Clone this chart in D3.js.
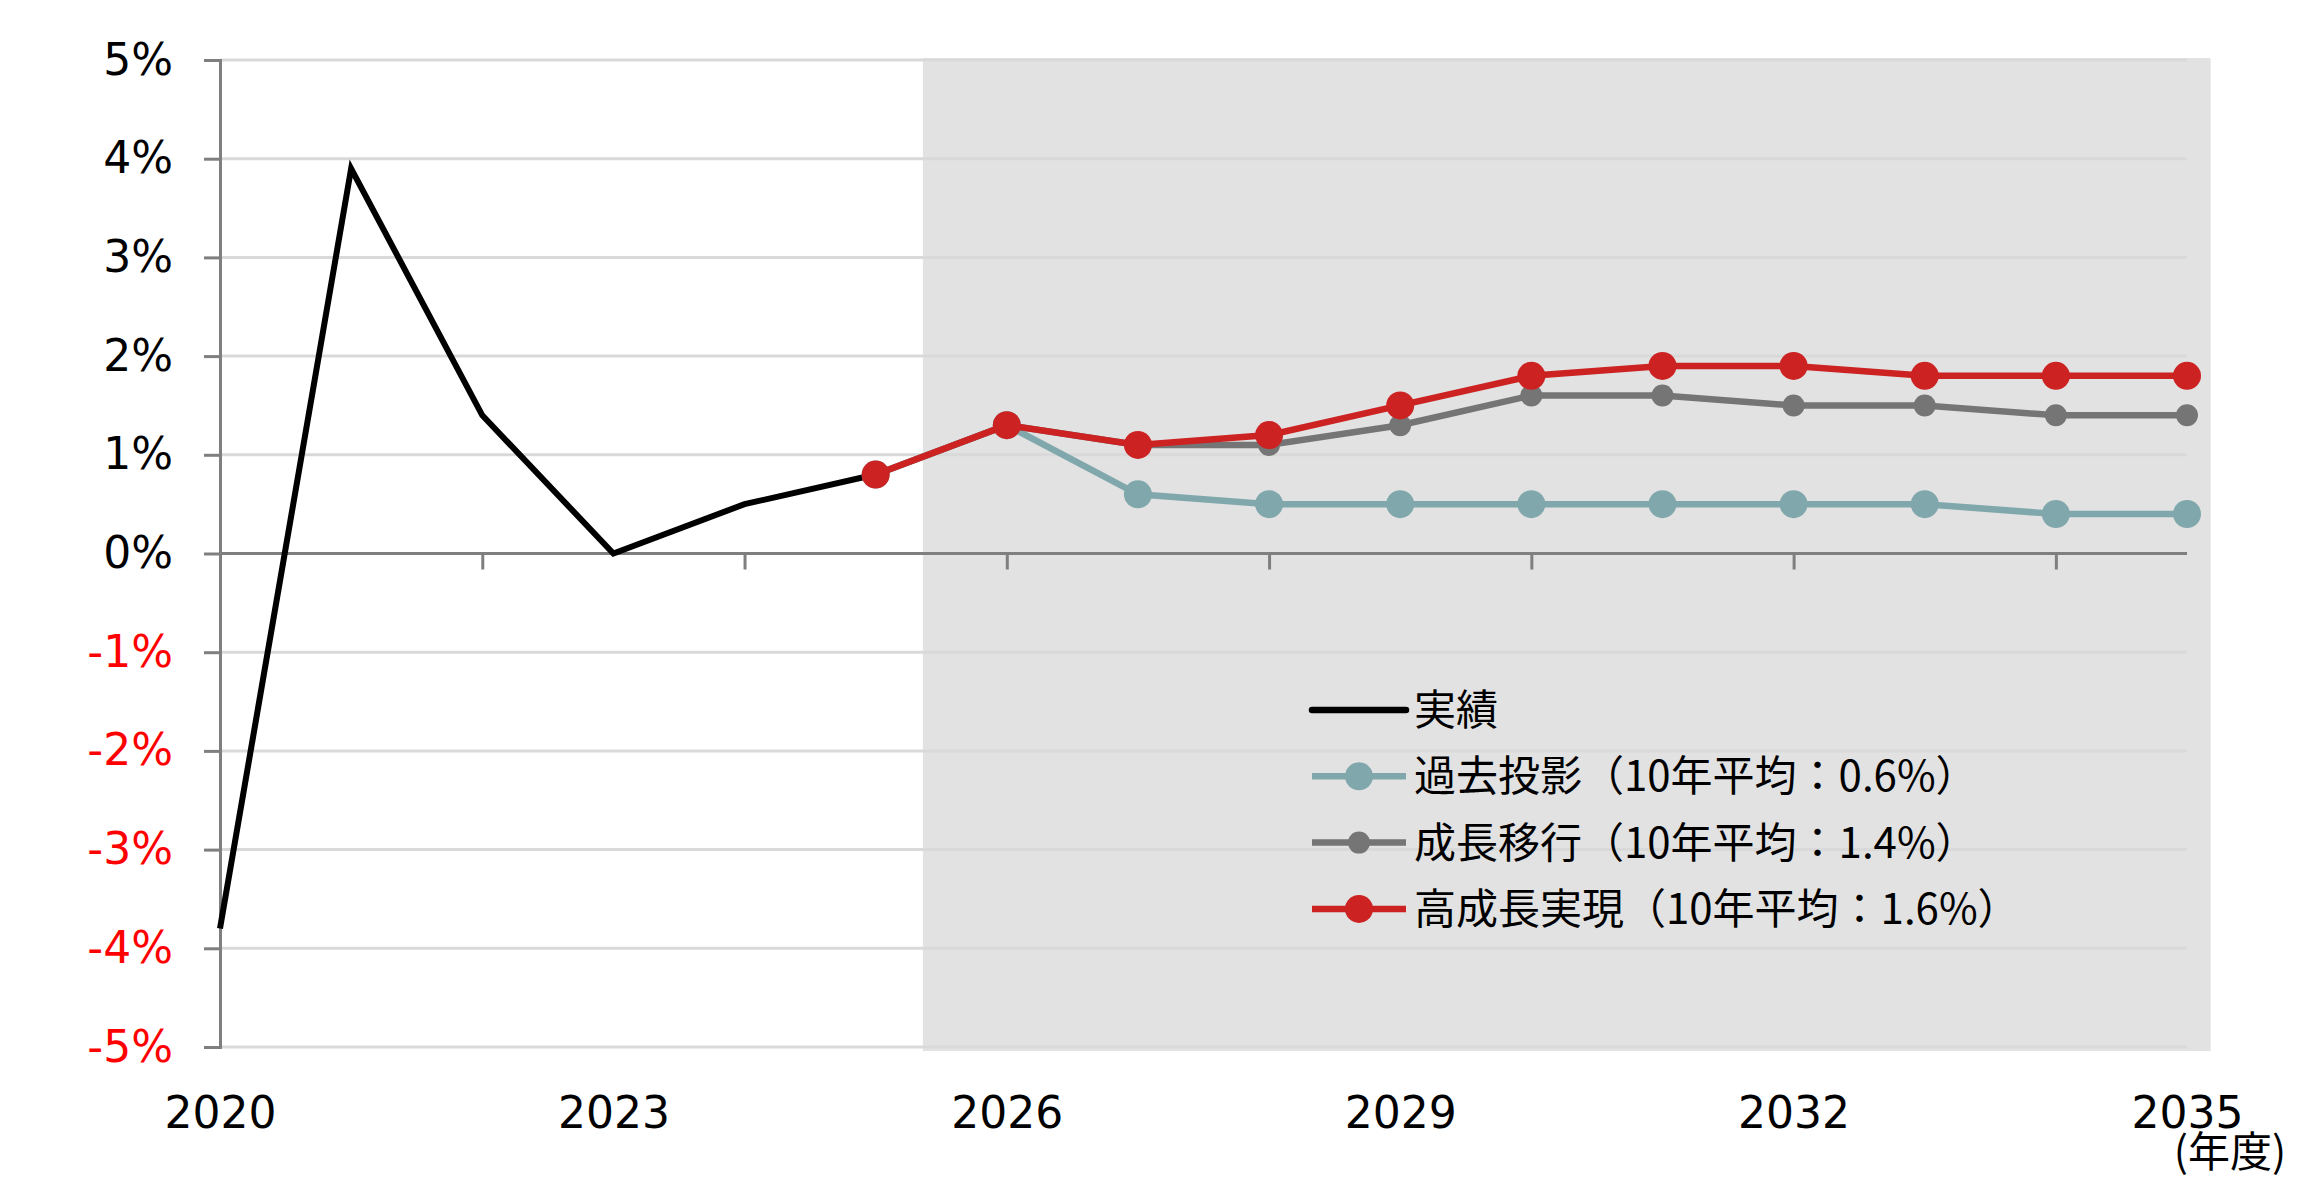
<!DOCTYPE html>
<html>
<head>
<meta charset="utf-8">
<script src="https://cdn.jsdelivr.net/npm/d3@7"></script>
<style>
  body { margin: 0; background: #fff; }
  svg { display: block; }
</style>
</head>
<body>
<svg id="chart" width="2322" height="1195"></svg>
<script>
// data (% year on year, fiscal year)
var actualYears = [2020, 2021, 2022, 2023, 2024, 2025];
var actualValues = [-3.8, 3.9, 1.4, 0.0, 0.5, 0.8];

var scenarioYears = [2025, 2026, 2027, 2028, 2029, 2030, 2031, 2032, 2033, 2034, 2035];
var pastProjection = [0.8, 1.3, 0.6, 0.5, 0.5, 0.5, 0.5, 0.5, 0.5, 0.4, 0.4];
var growthTransition = [0.8, 1.3, 1.1, 1.1, 1.3, 1.6, 1.6, 1.5, 1.5, 1.4, 1.4];
var highGrowth = [0.8, 1.3, 1.1, 1.2, 1.5, 1.8, 1.9, 1.9, 1.8, 1.8, 1.8];

var legendLabels = ["実績", "過去投影（10年平均：0.6%）", "成長移行（10年平均：1.4%）", "高成長実現（10年平均：1.6%）"];

var yTicks = [-5, -4, -3, -2, -1, 0, 1, 2, 3, 4, 5];
var xTickYears = [2022, 2024, 2026, 2028, 2030, 2032, 2034];
var xLabelYears = [2020, 2023, 2026, 2029, 2032, 2035];

// projection period shading (in axis units)
var shadeFrom = 2025.36, shadeTo = 2035.18;

var svg = d3.select("#chart");

var x = d3.scaleLinear().domain([2020, 2035]).range([220, 2187]);
var y = d3.scaleLinear().domain([-5, 5]).range([1047, 60]);

var axisFont = "'DejaVu Sans', 'Noto Sans CJK JP', sans-serif";
var cjkFont = "'Noto Sans CJK JP', 'DejaVu Sans', sans-serif";

// shaded forecast area
svg.append("rect")
  .attr("x", x(shadeFrom))
  .attr("y", y(5.02))
  .attr("width", x(shadeTo) - x(shadeFrom))
  .attr("height", y(-5.04) - y(5.02))
  .attr("fill", "#e2e2e2");

// gridlines
svg.append("g")
  .selectAll("line")
  .data(yTicks.filter(d => d !== 0))
  .enter()
  .append("line")
  .attr("x1", x(2020))
  .attr("x2", x(2035))
  .attr("y1", d => y(d))
  .attr("y2", d => y(d))
  .attr("stroke", "#d9d9d9")
  .attr("stroke-width", 3);

// y axis
var yAxis = svg.append("g")
  .attr("transform", "translate(" + x(2020) + ",0)")
  .call(d3.axisLeft(y).tickValues(yTicks).tickSize(16).tickPadding(31)
    .tickFormat(d => d + "%"));
yAxis.select(".domain").attr("stroke", "#7f7f7f").attr("stroke-width", 3);
yAxis.selectAll(".tick line").attr("stroke", "#7f7f7f").attr("stroke-width", 3);
yAxis.selectAll(".tick text")
  .attr("font-family", axisFont)
  .attr("font-size", 44)
  .attr("fill", d => d < 0 ? "#ff0000" : "#000");

// x axis along 0% (tick marks only, every 2 years)
var xAxis = svg.append("g")
  .attr("transform", "translate(0," + y(0) + ")")
  .call(d3.axisBottom(x).tickValues(xTickYears).tickSize(16).tickFormat(""));
xAxis.select(".domain").attr("stroke", "#7f7f7f").attr("stroke-width", 3)
  .attr("d", "M" + x(2020) + ",0H" + x(2035));
xAxis.selectAll(".tick line").attr("stroke", "#7f7f7f").attr("stroke-width", 3);
xAxis.selectAll(".tick text").remove();

// year labels at the bottom
var xLab = svg.append("g")
  .attr("transform", "translate(0," + y(-5) + ")")
  .call(d3.axisBottom(x).tickValues(xLabelYears).tickSize(0).tickPadding(50)
    .tickFormat(d3.format("d")));
xLab.select(".domain").remove();
xLab.selectAll(".tick text")
  .attr("font-family", axisFont)
  .attr("font-size", 44)
  .attr("fill", "#000");

svg.append("text")
  .attr("x", 2230)
  .attr("y", 1167)
  .attr("text-anchor", "middle")
  .attr("font-family", cjkFont)
  .attr("font-size", 42)
  .attr("fill", "#000")
  .text("(年度)");

// series
var line = d3.line().x(d => x(d[0])).y(d => y(d[1]));

var series = [
  { name: legendLabels[1], years: scenarioYears, values: pastProjection, color: "#80a8ac", r: 14 },
  { name: legendLabels[2], years: scenarioYears, values: growthTransition, color: "#757575", r: 11 },
  { name: legendLabels[3], years: scenarioYears, values: highGrowth, color: "#cc2222", r: 14 }
];

svg.append("path")
  .datum(d3.zip(actualYears, actualValues))
  .attr("d", line)
  .attr("fill", "none")
  .attr("stroke", "#000")
  .attr("stroke-width", 6);

series.forEach(s => {
  var pts = d3.zip(s.years, s.values);
  svg.append("path")
    .datum(pts)
    .attr("d", line)
    .attr("fill", "none")
    .attr("stroke", s.color)
    .attr("stroke-width", 6.5);
  svg.append("g")
    .selectAll("circle")
    .data(pts)
    .enter()
    .append("circle")
    .attr("cx", d => x(d[0]))
    .attr("cy", d => y(d[1]))
    .attr("r", s.r)
    .attr("fill", s.color);
});

// legend
var legendItems = [
  { name: legendLabels[0], color: "#000", r: 0 }
].concat(series);

var legend = svg.append("g").attr("transform", "translate(1312,710)");
legendItems.forEach((item, i) => {
  var g = legend.append("g").attr("transform", "translate(0," + (i * 66.3) + ")");
  g.append("line")
    .attr("x1", 0).attr("x2", 94)
    .attr("stroke", item.color)
    .attr("stroke-width", 6.5)
    .attr("stroke-linecap", i === 0 ? "round" : "butt");
  if (item.r) {
    g.append("circle").attr("cx", 47).attr("r", item.r).attr("fill", item.color);
  }
  g.append("text")
    .attr("x", 102)
    .attr("dy", "0.36em")
    .attr("font-family", cjkFont)
    .attr("font-size", 42)
    .attr("fill", "#000")
    .text(item.name);
});
</script>
</body>
</html>
